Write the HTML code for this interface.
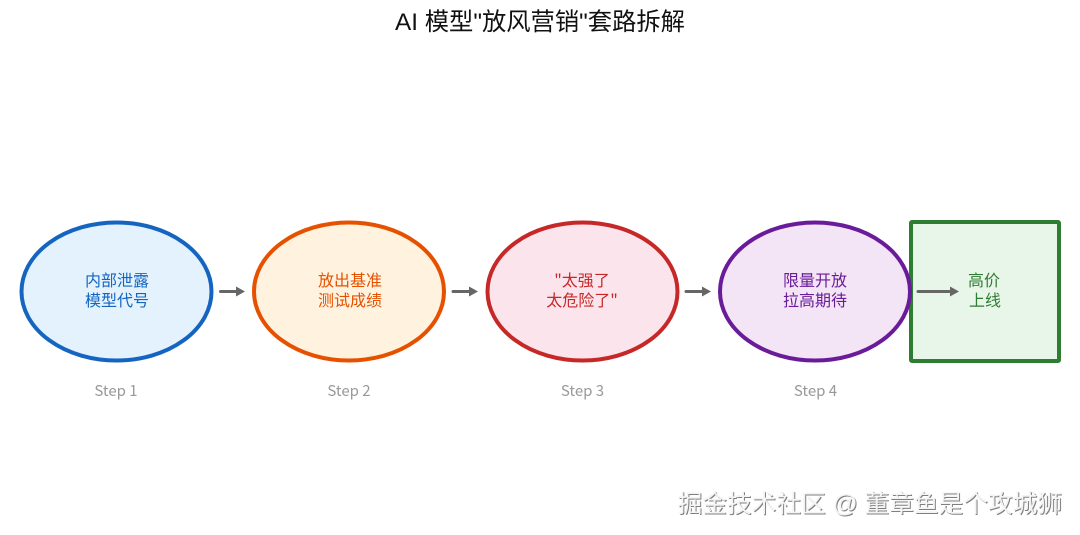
<!DOCTYPE html>
<html><head><meta charset="utf-8">
<style>
html,body{margin:0;padding:0;background:#fff;width:1080px;height:535px;overflow:hidden}
svg{display:block}
text{font-family:"Noto Sans CJK SC","WenQuanYi Zen Hei",sans-serif}
.t{font-size:16px;text-anchor:middle}
.s{font-size:15px;fill:#999;text-anchor:middle;font-family:"Noto Sans CJK SC",sans-serif}
</style></head><body>
<svg width="1080" height="535" viewBox="0 0 1080 535" xmlns="http://www.w3.org/2000/svg">
<text x="540" y="30" font-size="24.3" fill="#111" text-anchor="middle" style="font-family:'Liberation Sans','Noto Sans CJK SC',sans-serif">AI 模型"放风营销"套路拆解</text>

<ellipse cx="116.5" cy="291.5" rx="95" ry="69" fill="#e3f2fd" stroke="#1565c0" stroke-width="4"/>
<ellipse cx="349" cy="291.5" rx="95" ry="69" fill="#fff3e0" stroke="#e65100" stroke-width="4"/>
<ellipse cx="582.5" cy="291.5" rx="95" ry="69" fill="#fce4ec" stroke="#c62828" stroke-width="4"/>
<rect x="911" y="222" width="148" height="139" rx="1" fill="#e8f5e9" stroke="#2e7d32" stroke-width="4"/>
<ellipse cx="815" cy="291.5" rx="95" ry="69" fill="#f3e5f5" stroke="#6a1b9a" stroke-width="4"/>

<g class="t">
<text class="t" x="117" y="286" fill="#1565c0">内部泄露</text>
<text class="t" x="117" y="306" fill="#1565c0">模型代号</text>
<text class="t" x="350" y="286" fill="#e65100">放出基准</text>
<text class="t" x="350" y="306" fill="#e65100">测试成绩</text>
<text class="t" x="582" y="286" fill="#c62828">"太强了</text>
<text class="t" x="582" y="306" fill="#c62828">太危险了"</text>
<text class="t" x="815" y="286" fill="#6a1b9a">限量开放</text>
<text class="t" x="815" y="306" fill="#6a1b9a">拉高期待</text>
<text class="t" x="984" y="286" fill="#2e7d32">高价</text>
<text class="t" x="985" y="306" fill="#2e7d32">上线</text>
</g>

<g stroke="#666" stroke-width="3" fill="none" stroke-linecap="round">
<path d="M220.5 291.5H240"/>
<path d="M453 291.5H473"/>
<path d="M686 291.5H706"/>
<path d="M918 291.5H954"/>
</g>
<g fill="#666">
<path d="M236 286.5L245 291.5L236 296.5Z"/>
<path d="M469 286.5L478 291.5L469 296.5Z"/>
<path d="M702 286.5L711 291.5L702 296.5Z"/>
<path d="M950 286.5L959 291.5L950 296.5Z"/>
</g>

<text class="s" x="116" y="396">Step 1</text>
<text class="s" x="349" y="396">Step 2</text>
<text class="s" x="582.5" y="396">Step 3</text>
<text class="s" x="815.5" y="396">Step 4</text>

<text x="1062" y="512" font-size="24.7" text-anchor="end" fill="#555" opacity=".75" transform="translate(1,1)" style="font-family:'Liberation Sans','Noto Sans CJK SC',sans-serif">掘金技术社区 @ 董章鱼是个攻城狮</text>
<text x="1062" y="512" font-size="24.7" text-anchor="end" fill="#f4f4f4" style="font-family:'Liberation Sans','Noto Sans CJK SC',sans-serif">掘金技术社区 @ 董章鱼是个攻城狮</text>
</svg>
</body></html>
